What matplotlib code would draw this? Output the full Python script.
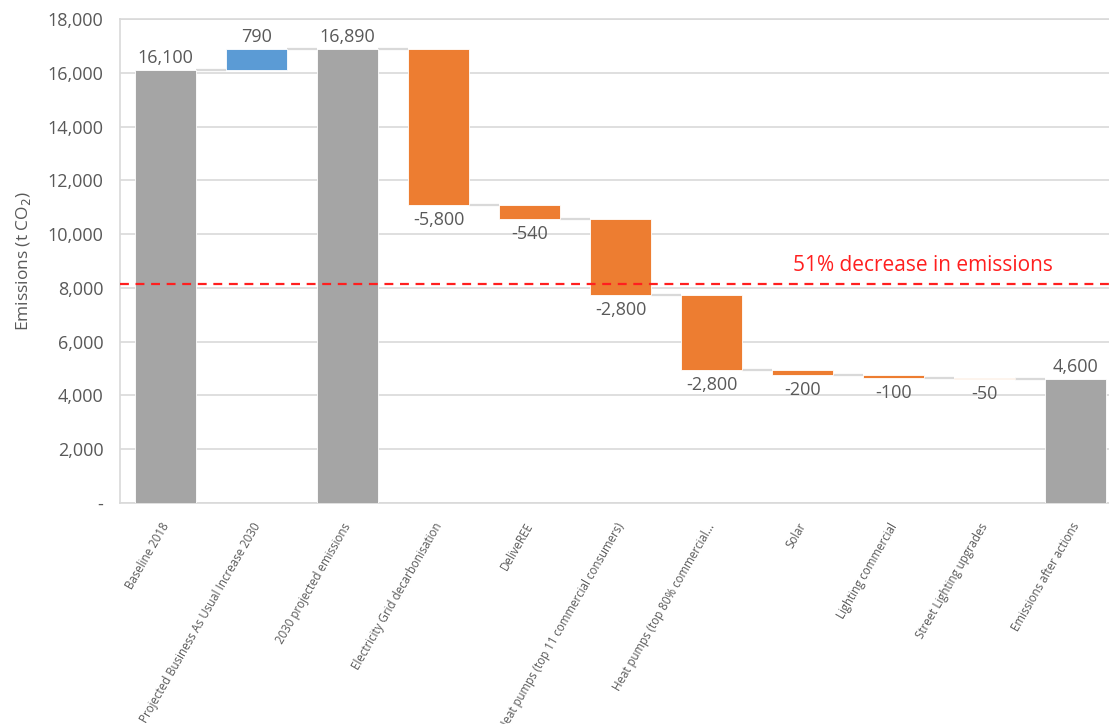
import numpy as np
import matplotlib.pyplot as plt
from matplotlib.ticker import FuncFormatter
from matplotlib.transforms import ScaledTranslation

plt.rcParams['font.family'] = ['Open Sans', 'DejaVu Sans']

categories = [
    'Baseline 2018',
    'Projected Business As Usual Increase 2030',
    '2030 projected emissions',
    'Electricity Grid decarbonisation',
    'DeliveREE',
    'Heat pumps (top 11 commercial consumers)',
    'Heat pumps (top 80% commercial...',
    'Solar',
    'Lighting commercial',
    'Street Lighting upgrades',
    'Emissions after actions',
]
# 'total' bars start at zero, 'delta' bars float on the running total
kinds = ['total', 'delta', 'total', 'delta', 'delta', 'delta', 'delta',
         'delta', 'delta', 'delta', 'total']
values = [16100, 790, 16890, -5800, -540, -2800, -2800, -200, -100, -50, 4600]
target = 8150
target_text = '51% decrease in emissions'

GREY = '#a5a5a5'
BLUE = '#5b9bd5'
ORANGE = '#ed7d31'
TEXT = '#595959'
GRID = '#d9d9d9'

fig = plt.figure(figsize=(11.09, 7.24), dpi=100)
ax = fig.add_axes([120 / 1109, 1 - 503 / 724, 1001 / 1109, 484 / 724])

x = np.arange(len(categories))
width = 0.66
bottoms, tops, colors = [], [], []
level = 0
for kind, v in zip(kinds, values):
    if kind == 'total':
        bottoms.append(0)
        tops.append(v)
        colors.append(GREY)
        level = v
    else:
        start, level = level, level + v
        bottoms.append(min(start, level))
        tops.append(max(start, level))
        colors.append(BLUE if v > 0 else ORANGE)

bottoms = np.array(bottoms)
tops = np.array(tops)
ax.bar(x, tops - bottoms, bottom=bottoms, width=width, color=colors,
       edgecolor='white', linewidth=0.6, zorder=3)

# connectors between neighbouring bars at the running total
for i in range(len(x) - 1):
    if kinds[i] == 'total':
        y = tops[i]
    else:
        y = bottoms[i] if values[i] < 0 else tops[i]
    ax.plot([x[i] + width / 2, x[i + 1] - width / 2], [y, y],
            color=GRID, lw=1.6, zorder=2, solid_capstyle='butt')

for xi, kind, v, b, t in zip(x, kinds, values, bottoms, tops):
    label = f'{v:,}'
    if v >= 0:
        ax.text(xi, t + 120, label, ha='center', va='bottom',
                fontsize=13, color=TEXT, zorder=4)
    else:
        ax.text(xi, b - 220, label, ha='center', va='top',
                fontsize=13, color=TEXT, zorder=4)

ax.axhline(target, color='#ff1f1f', lw=1.6, ls=(0, (4, 3)), zorder=4)
ax.text(8.32, target + 280, target_text, ha='center', va='bottom',
        fontsize=15, color='#ff1f1f', zorder=4)

ax.set_xlim(-0.5, 10.5)
ax.set_ylim(0, 18000)
ax.set_yticks(np.arange(0, 18001, 2000))
ax.yaxis.set_major_formatter(
    FuncFormatter(lambda v, _: '-' if v == 0 else f'{int(v):,}'))
ax.grid(axis='y', color=GRID, lw=1.2, zorder=0)
ax.tick_params(axis='both', length=0, colors=TEXT)
ax.tick_params(axis='y', labelsize=13, pad=12)

ax.set_xticks(x)
ax.set_xticklabels(categories, rotation=60, ha='right', va='top',
                   rotation_mode='anchor', fontsize=8.3, color=TEXT)
ax.tick_params(axis='x', pad=9)
# nudge the slanted labels so their ends sit at each bar centre
shift = ScaledTranslation(-0.05, -0.05, fig.dpi_scale_trans)
for lbl in ax.get_xticklabels():
    lbl.set_transform(lbl.get_transform() + shift)

ax.set_ylabel('Emissions (t CO$_2$)', fontsize=12.5, color=TEXT, labelpad=10)

for side in ['top', 'left', 'bottom']:
    ax.spines[side].set_color(GRID)
    ax.spines[side].set_linewidth(1.2)
ax.spines['right'].set_visible(False)

fig.savefig('out.png', dpi=100)
